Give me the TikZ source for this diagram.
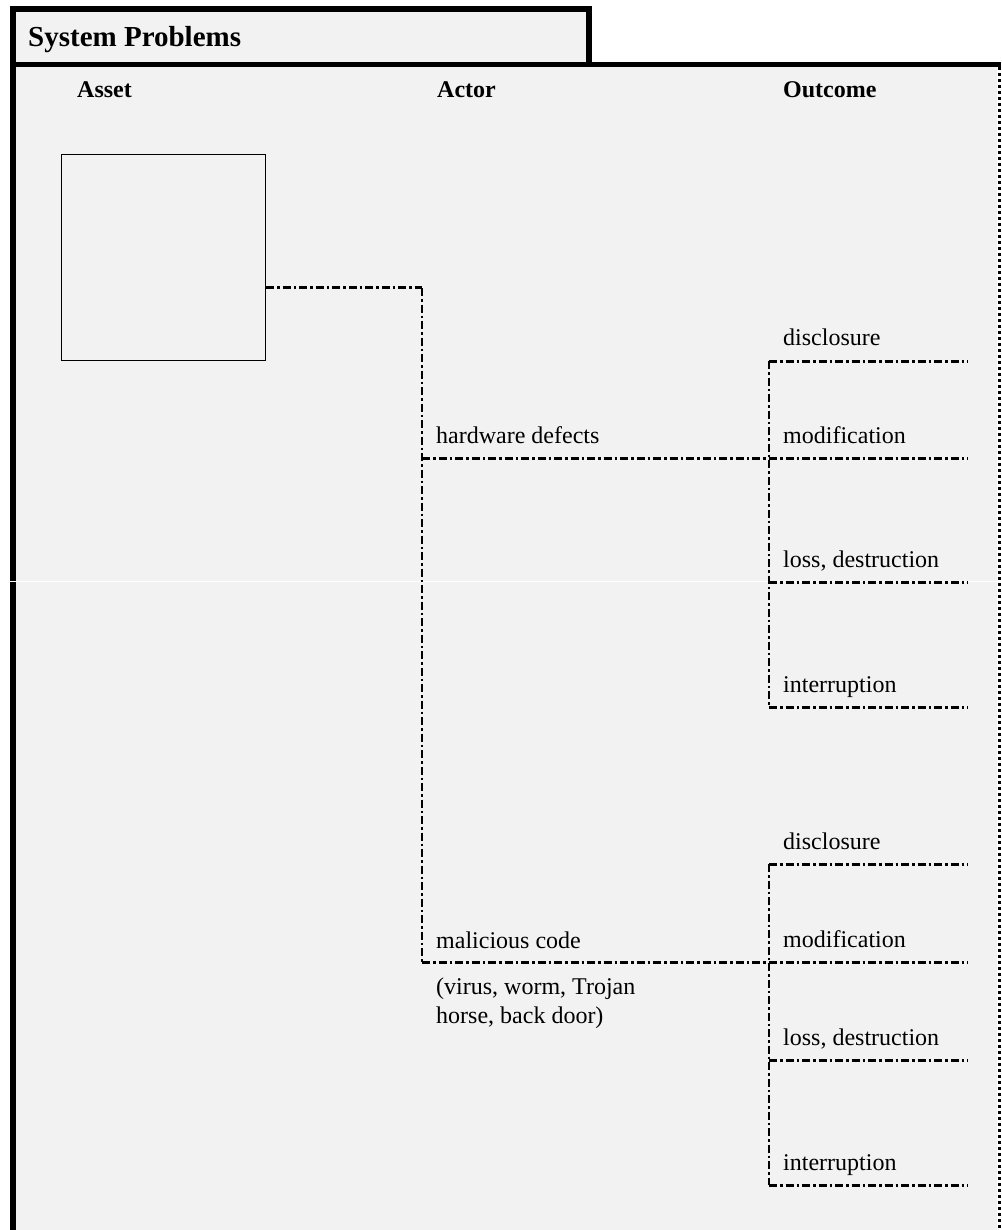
\documentclass[tikz,border=0pt]{standalone}
\usepackage{fontspec}
\setmainfont{Liberation Serif}
\usetikzlibrary{calc}
\definecolor{panel}{HTML}{F2F2F2}
\tikzset{
  frameline/.style={line width=5.5pt},
  edgeline/.style={line width=3.2pt, dash pattern=on 3pt off 3pt},
  link/.style={line width=3pt, dash pattern=on 8pt off 3pt on 2.5pt off 3pt},
  vlink/.style={link, line width=2.3pt},
  head/.style={anchor=base west, inner sep=0pt, font=\fontsize{24}{28}\selectfont\bfseries},
  label/.style={anchor=base west, inner sep=0pt, font=\fontsize{24}{29}\selectfont},
  assetbox/.style={draw, line width=1pt, inner sep=0pt, minimum width=204pt, minimum height=205pt},
}
\begin{document}
\begin{tikzpicture}[x=1pt,y=-1pt]
\useasboundingbox (0,0) rectangle (1001,1230);
% grey panels
\fill[panel] (13,9) rectangle (588.5,64.5);
\fill[panel] (13,64.5) rectangle (997,1232);
% tab and frame
\draw[frameline, line width=6pt] (13,1240) -- (13,9) -- (588.5,9) -- (588.5,64.5);
\draw[frameline] (10,64.5) -- (1001,64.5);
\draw[edgeline] (999.3,67) -- (999.3,1240);
% thin light seam across the panel
\draw[white, line width=1.3pt] (8,581.5) -- (997,581.5);

% title and column heads
\node[head, font=\fontsize{29}{34}\selectfont\bfseries] (title) at (28,47) {System Problems};
\node[head] (hasset) at (77,98) {Asset};
\node[head] (hactor) at (437,98) {Actor};
\node[head] (houtcome) at (783,98) {Outcome};

% asset box
\node[assetbox] (asset) at (163.7,257.5) {};

% actor labels
\node[label] (hw) at (436,443) {hardware defects};
\node[label] (mal) at (436,948) {malicious code};
\node[label, anchor=north west, align=left] (malx) at (436,978) {(virus, worm, Trojan\\horse, back door)};

% outcome labels, first group
\node[label] (o1a) at (783,345) {disclosure};
\node[label] (o1b) at (783,443) {modification};
\node[label] (o1c) at (783,567) {loss, destruction};
\node[label] (o1d) at (783,692) {interruption};
% outcome labels, second group
\node[label] (o2a) at (783,849) {disclosure};
\node[label] (o2b) at (783,947) {modification};
\node[label] (o2c) at (783,1045) {loss, destruction};
\node[label] (o2d) at (783,1170) {interruption};

% junction points
\coordinate (aout) at ($(asset.east |- 0,288)$);
\coordinate (acorner) at (422,288);
\coordinate (hwj) at (422,458);
\coordinate (malj) at (422,962);
\coordinate (g1top) at (769,361);
\coordinate (g1mid) at (769,458);
\coordinate (g1c) at (769,582);
\coordinate (g1bot) at (769,707);
\coordinate (g2top) at (769,864);
\coordinate (g2mid) at (769,962);
\coordinate (g2c) at (769,1060);
\coordinate (g2bot) at (769,1185);
\coordinate (e1a) at (968,361);
\coordinate (e1b) at (968,458);
\coordinate (e1c) at (968,582);
\coordinate (e1d) at (968,707);
\coordinate (e2a) at (968,864);
\coordinate (e2b) at (968,962);
\coordinate (e2c) at (968,1060);
\coordinate (e2d) at (968,1185);

% asset to actors
\draw[link] (aout) -- (acorner);
\draw[vlink] (acorner) -- (malj);
\draw[link] (hwj) -- (g1mid);
\draw[link] (malj) -- (g2mid);
% first outcome group
\draw[vlink] (g1top) -- (g1bot);
\draw[link] (g1top) -- (e1a);
\draw[link] (g1mid) -- (e1b);
\draw[link] (g1c) -- (e1c);
\draw[link] (g1bot) -- (e1d);
% second outcome group
\draw[vlink] (g2top) -- (g2bot);
\draw[link] (g2top) -- (e2a);
\draw[link] (g2mid) -- (e2b);
\draw[link] (g2c) -- (e2c);
\draw[link] (g2bot) -- (e2d);
\end{tikzpicture}
\end{document}
